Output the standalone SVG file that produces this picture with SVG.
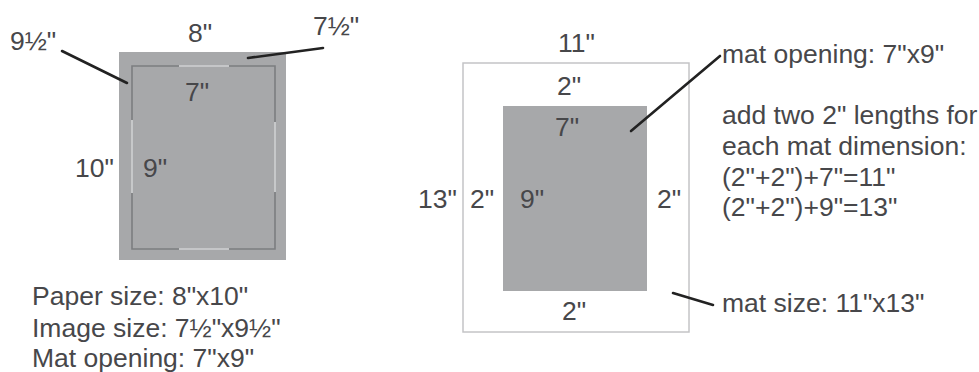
<svg xmlns="http://www.w3.org/2000/svg" width="979" height="372" viewBox="0 0 979 372">
  <style>
    text { font-family: "Liberation Sans", Arial, sans-serif; font-size: 26.5px; fill: #47474a; }
    .lead { stroke: #222; stroke-width: 2.6; fill: none; stroke-linecap: round; }
    .fdark { stroke: #7c7d80; stroke-width: 1.6; fill: none; }
    .flight { stroke: #cfd0d2; stroke-width: 1.6; fill: none; }
  </style>
  <rect width="979" height="372" fill="#ffffff"/>

  <g id="paper">
    <rect x="119" y="52" width="167" height="208" fill="#a7a8aa"/>
    <path class="fdark" d="M179,66 H132 V120 M132,193 V249 H179 M229,249 H275 V192 M275,122 V66 H229"/>
    <path class="flight" d="M179,66 H229 M132,120 V193 M179,249 H229 M275,122 V192"/>
    <text x="185" y="101">7"</text>
    <text x="143" y="177">9"</text>
  </g>

  <g id="paper-labels">
    <text x="10" y="50">9½"</text>
    <text x="188" y="42">8"</text>
    <text x="313" y="35">7½"</text>
    <text x="75" y="177">10"</text>
  </g>

  <g id="left-notes">
    <text x="32" y="305">Paper size: 8"x10"</text>
    <text x="32" y="337">Image size: 7½"x9½"</text>
    <text x="32" y="367">Mat opening: 7"x9"</text>
  </g>

  <g id="mat">
    <rect x="463" y="63" width="226" height="269" fill="#ffffff" stroke="#c4c4c6" stroke-width="1.5"/>
    <rect x="503" y="106" width="144" height="185" fill="#a7a8aa"/>
    <text x="558" y="52">11"</text>
    <text x="557" y="95">2"</text>
    <text x="555" y="136">7"</text>
    <text x="418" y="208">13"</text>
    <text x="470" y="208">2"</text>
    <text x="520" y="208">9"</text>
    <text x="657" y="208">2"</text>
    <text x="562" y="320">2"</text>
  </g>

  <g id="right-notes">
    <text x="722" y="63">mat opening: 7"x9"</text>
    <text x="722" y="124">add two 2" lengths for</text>
    <text x="722" y="155">each mat dimension:</text>
    <text x="722" y="186">(2"+2")+7"=11"</text>
    <text x="722" y="216">(2"+2")+9"=13"</text>
    <text x="722" y="312">mat size: 11"x13"</text>
  </g>

  <g id="connectors">
    <line class="lead" x1="62" y1="51" x2="127" y2="83"/>
    <line class="lead" x1="248" y1="58" x2="323" y2="48"/>
    <line class="lead" x1="631" y1="131" x2="720" y2="56"/>
    <line class="lead" x1="673" y1="293" x2="713" y2="305"/>
  </g>
</svg>
